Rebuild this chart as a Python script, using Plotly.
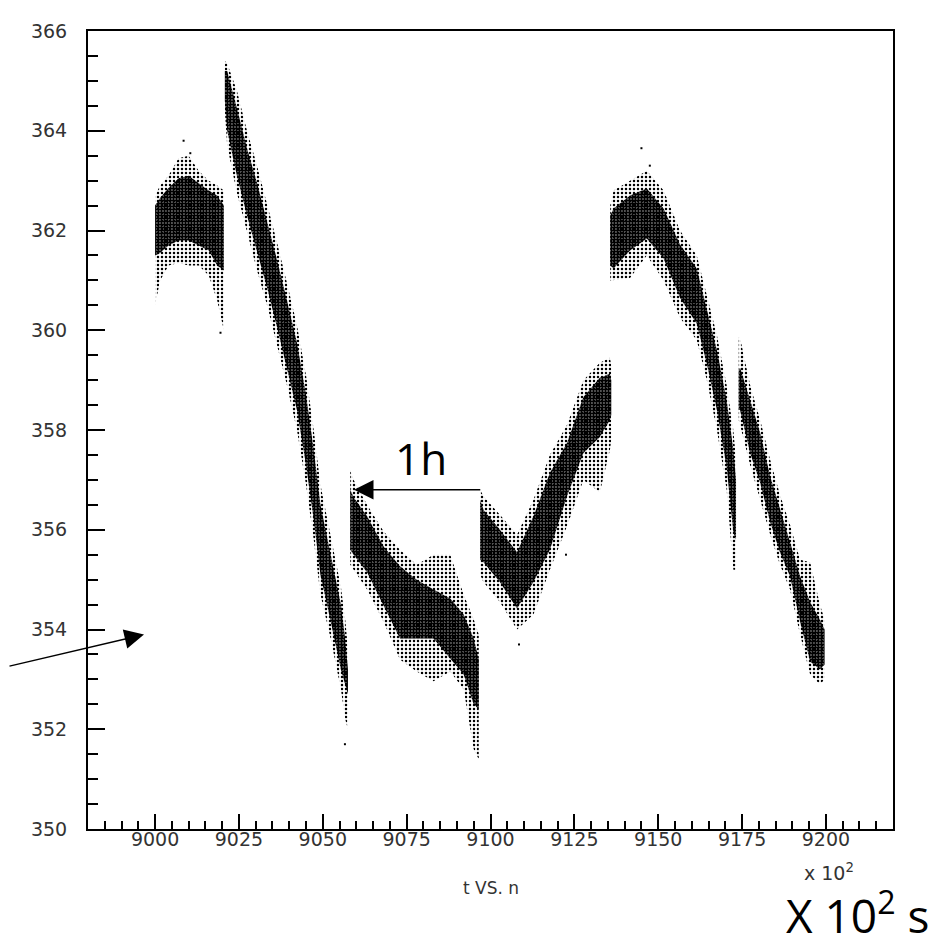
import plotly.graph_objects as go

# ---------------- data ----------------
x_tick_vals = [9000, 9025, 9050, 9075, 9100, 9125, 9150, 9175, 9200]
x_tick_text = ["9000", "9025", "9050", "9075", "9100", "9125", "9150", "9175", "9200"]
y_tick_vals = [350, 352, 354, 356, 358, 360, 362, 364, 366]
y_tick_text = ["350", "352", "354", "356", "358", "360", "362", "364", "366"]

# segment A
a_x = [9000.0, 9001.5, 9004.0, 9007.0, 9010.0, 9013.0, 9016.0, 9018.5, 9020.5]
a_core_lo = [361.5, 361.55, 361.7, 361.8, 361.8, 361.7, 361.6, 361.3, 361.2]
a_core_hi = [362.5, 362.65, 362.85, 363.05, 363.1, 362.95, 362.8, 362.7, 362.5]
a_fr_lo = [360.5, 361.0, 361.3, 361.35, 361.3, 361.3, 361.1, 360.6, 360.0]
a_fr_hi = [362.7, 362.9, 363.1, 363.45, 363.5, 363.2, 363.0, 362.9, 362.8]

# segment B
b_x = [9020.8, 9021.5, 9024.4, 9027.4, 9030.4, 9033.4, 9036.4, 9039.3, 9042.3, 9045.0, 9047.3, 9049.3, 9052.4, 9055.4, 9056.7, 9057.5]
b_core_hi = [365.2, 365.2, 364.45, 363.65, 362.95, 362.2, 361.4, 360.6, 359.75, 358.7, 357.6, 356.5, 355.5, 354.5, 353.8, 353.2]
b_core_lo = [364.6, 364.0, 363.1, 362.3, 361.55, 360.85, 360.05, 359.25, 358.4, 357.3, 356.2, 355.1, 354.15, 353.2, 352.9, 352.7]
b_fr_hi = [365.4, 365.35, 364.8, 364.0, 363.3, 362.55, 361.75, 360.95, 360.1, 359.1, 358.0, 356.9, 355.85, 354.85, 354.2, 353.6]
b_fr_lo = [364.4, 363.7, 362.75, 361.95, 361.2, 360.5, 359.7, 358.9, 358.0, 356.9, 355.8, 354.7, 353.8, 352.8, 352.2, 352.0]

# segment C
c_x = [9058.2, 9059.2, 9063.2, 9068.1, 9073.0, 9078.0, 9083.0, 9088.0, 9092.0, 9095.0, 9096.5]
c_core_hi = [356.8, 356.65, 356.27, 355.67, 355.27, 355.0, 354.8, 354.62, 354.3, 353.82, 353.4]
c_core_lo = [355.6, 355.5, 355.15, 354.48, 353.82, 353.82, 353.82, 353.42, 353.1, 352.5, 352.4]
c_fr_hi = [357.2, 357.0, 356.5, 355.97, 355.6, 355.3, 355.5, 355.5, 354.7, 354.2, 353.9]
c_fr_lo = [355.3, 355.2, 354.8, 354.16, 353.4, 353.16, 352.96, 353.16, 352.8, 351.6, 351.4]

# segment D
d_x = [9096.9, 9097.9, 9102.8, 9107.9, 9112.8, 9117.7, 9122.8, 9127.7, 9132.6, 9135.6, 9136.0]
d_core_hi = [356.6, 356.4, 356.0, 355.55, 356.27, 357.14, 357.74, 358.66, 359.05, 359.13, 359.0]
d_core_lo = [355.4, 355.35, 354.95, 354.42, 354.95, 355.6, 356.67, 357.54, 357.86, 358.2, 358.3]
d_fr_hi = [356.8, 356.67, 356.3, 355.9, 356.6, 357.5, 358.1, 359.0, 359.35, 359.45, 359.3]
d_fr_lo = [355.1, 354.95, 354.55, 354.0, 354.3, 355.2, 356.07, 357.0, 356.75, 357.6, 357.8]

# segment E
e_x = [9135.7, 9136.7, 9141.6, 9146.6, 9151.6, 9156.5, 9161.5, 9164.5, 9167.5, 9170.4, 9172.4, 9173.2]
e_core_hi = [362.3, 362.44, 362.7, 362.84, 362.44, 361.72, 361.24, 360.39, 359.6, 358.6, 357.6, 357.0]
e_core_lo = [361.3, 361.24, 361.6, 361.84, 361.44, 360.65, 360.13, 359.33, 358.4, 357.26, 355.95, 355.8]
e_fr_hi = [362.5, 362.8, 363.0, 363.2, 362.8, 362.0, 361.5, 360.7, 359.9, 358.9, 358.0, 357.4]
e_fr_lo = [361.0, 361.0, 361.05, 361.5, 361.0, 360.25, 359.8, 359.0, 358.0, 356.8, 355.2, 355.2]

# segment F
f_x = [9174.0, 9174.4, 9177.4, 9180.4, 9183.4, 9186.3, 9189.3, 9192.3, 9195.3, 9198.2, 9199.6]
f_core_hi = [359.2, 359.25, 358.6, 357.94, 357.07, 356.4, 355.75, 355.07, 354.55, 354.2, 354.0]
f_core_lo = [358.4, 358.4, 357.54, 356.94, 356.15, 355.55, 355.07, 354.16, 353.36, 353.2, 353.3]
f_fr_hi = [359.85, 359.85, 358.9, 358.2, 357.4, 356.7, 356.1, 355.4, 355.35, 354.5, 354.2]
f_fr_lo = [358.2, 358.1, 357.3, 356.6, 355.9, 355.3, 354.8, 353.9, 353.1, 352.9, 353.0]

# isolated points
out_x = [9008.5, 9010.5, 9056.6, 9145.0, 9108.5, 9122.5, 9019.5, 9147.5]
out_y = [363.8, 363.55, 351.7, 363.65, 353.7, 355.5, 359.95, 363.3]

segments = [
    (a_x, a_core_lo, a_core_hi, a_fr_lo, a_fr_hi),
    (b_x, b_core_lo, b_core_hi, b_fr_lo, b_fr_hi),
    (c_x, c_core_lo, c_core_hi, c_fr_lo, c_fr_hi),
    (d_x, d_core_lo, d_core_hi, d_fr_lo, d_fr_hi),
    (e_x, e_core_lo, e_core_hi, e_fr_lo, e_fr_hi),
    (f_x, f_core_lo, f_core_hi, f_fr_lo, f_fr_hi),
]

fig = go.Figure()


def band(xs, lo, hi, size, solidity):
    return go.Scatter(
        x=list(xs) + list(xs)[::-1],
        y=list(hi) + list(lo)[::-1],
        mode="lines",
        line=dict(width=0, color="rgba(0,0,0,0)"),
        fill="toself",
        fillcolor="rgba(0,0,0,0)",
        fillpattern=dict(shape=".", fgcolor="black", bgcolor="rgba(0,0,0,0)",
                         size=size, solidity=solidity, fillmode="replace"),
        hoverinfo="skip",
        showlegend=False,
    )


for xs, clo, chi, flo, fhi in segments:
    fig.add_trace(band(xs, flo, fhi, 4, 0.3))
for xs, clo, chi, flo, fhi in segments:
    fig.add_trace(band(xs, clo, chi, 3, 0.8))

fig.add_trace(go.Scatter(x=out_x, y=out_y, mode="markers",
                         marker=dict(color="black", size=2, symbol="square"),
                         showlegend=False, hoverinfo="skip"))

tick_font = dict(family="DejaVu Sans", size=19, color="#333")

fig.update_xaxes(
    range=[8980, 9220], tickmode="array", tickvals=x_tick_vals, ticktext=x_tick_text,
    ticks="inside", ticklen=15, tickwidth=1.5, tickcolor="black",
    showline=True, linecolor="black", linewidth=2, mirror=True,
    showgrid=False, zeroline=False, tickfont=tick_font, ticklabelstandoff=-8,
    minor=dict(ticks="inside", ticklen=8, tickwidth=1.5, tickcolor="black",
               tickmode="linear", tick0=8980, dtick=5, showgrid=False),
)
fig.update_yaxes(
    range=[350, 366], tickmode="array", tickvals=y_tick_vals, ticktext=y_tick_text,
    ticks="inside", ticklen=17, tickwidth=1.5, tickcolor="black",
    showline=True, linecolor="black", linewidth=2, mirror=True,
    showgrid=False, zeroline=False, tickfont=tick_font, ticklabelstandoff=15,
    minor=dict(ticks="inside", ticklen=10, tickwidth=1.5, tickcolor="black",
               tickmode="linear", tick0=350, dtick=0.5, showgrid=False),
)

big_font = dict(family="Open Sans", size=44, color="black")

fig.update_layout(
    width=951, height=948,
    margin=dict(l=80, r=66, t=18, b=127),
    paper_bgcolor="white", plot_bgcolor="white",
    showlegend=False,
    annotations=[
        dict(x=9059.3, y=356.8, ax=9097.4, ay=356.8, axref="x", ayref="y",
             xref="x", yref="y", showarrow=True, arrowhead=2, arrowsize=2.6,
             arrowwidth=1.5, arrowcolor="black", text=""),
        dict(x=9079.3, y=357.44, xref="x", yref="y", text="1h", showarrow=False,
             xanchor="center", yanchor="middle", font=big_font),
        dict(x=8996.7, y=353.9, xref="x", yref="y", ax=-137, ay=32,
             showarrow=True, arrowhead=2, arrowsize=2.6, arrowwidth=1.5,
             arrowcolor="black", text=""),
        dict(x=0.5, y=-0.074, xref="paper", yref="paper", text="t VS. n",
             xanchor="center", yanchor="middle", showarrow=False,
             font=dict(family="DejaVu Sans", size=17, color="#333")),
        dict(x=0.92, y=-0.054, xref="paper", yref="paper", text="x 10<sup>2</sup>",
             xanchor="center", yanchor="middle", showarrow=False,
             font=dict(family="DejaVu Sans", size=19, color="#333")),
        dict(x=0.9565, y=-0.105, xref="paper", yref="paper", text="X 10<sup>2</sup> s",
             xanchor="center", yanchor="middle", showarrow=False,
             font=dict(family="Open Sans", size=46, color="black")),
    ],
)

fig.write_html("out.html")
